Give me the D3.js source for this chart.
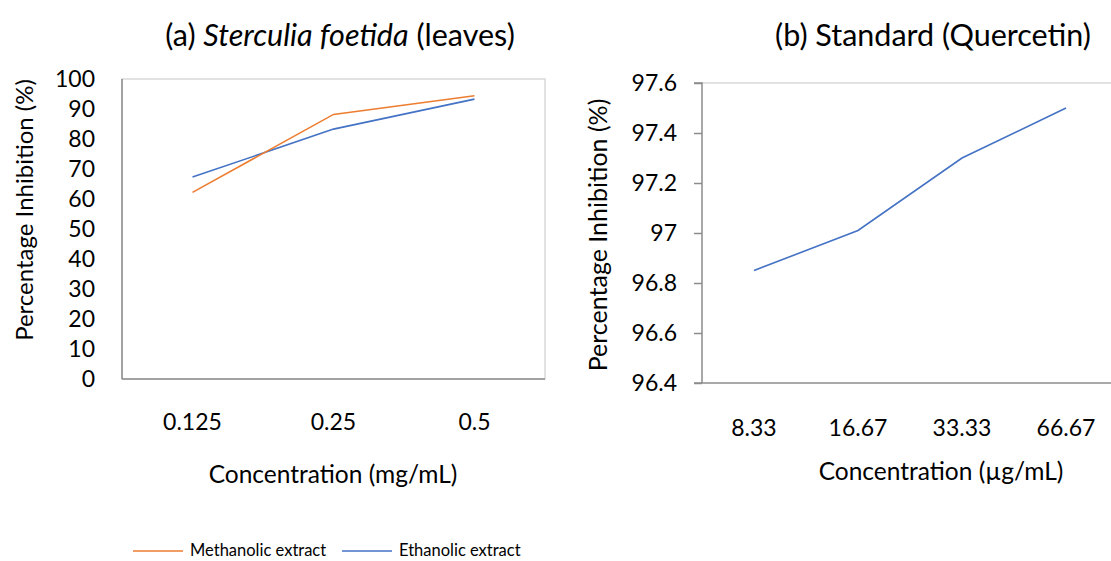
<!DOCTYPE html>
<html><head><meta charset="utf-8">
<script src="https://cdn.jsdelivr.net/npm/d3@7/dist/d3.min.js"></script>
<style>body{margin:0;background:#fff}svg{display:block;font-family:Lato,"Open Sans",sans-serif}</style>
</head><body><svg id="c" width="1111" height="561"></svg>
<script>
const catsA = ["0.125","0.25","0.5"];
const methanolic = [62.2, 88.2, 94.4];
const ethanolic = [67.3, 83.3, 93.3];
const ticksA = [0,10,20,30,40,50,60,70,80,90,100];
const catsB = ["8.33","16.67","33.33","66.67"];
const quercetin = [96.85, 97.01, 97.30, 97.50];
const ticksB = [96.4,96.6,96.8,97,97.2,97.4,97.6];
const seriesNames = ["Methanolic extract","Ethanolic extract"];
const colors = {m:"#ED7D31", e:"#4472C4"};

const svg = d3.select("#c");
const axisCol = "#8c8c8c", borderCol = "#d9d9d9";
const tickFs = 23, axTitleFs = 24.5, titleFs = 30.5;

// Chart A
const A = {l:122, r:545, t:79, b:379};
const xA = d3.scaleBand().domain(catsA).range([A.l, A.r]);
const yA = d3.scaleLinear().domain([0,100]).range([A.b, A.t]);
const gA = svg.append("g");
gA.append("rect").attr("x",A.l).attr("y",A.t).attr("width",A.r-A.l).attr("height",A.b-A.t)
  .attr("fill","none").attr("stroke",borderCol).attr("stroke-width",1.5);
gA.append("line").attr("x1",A.l).attr("x2",A.l).attr("y1",A.t).attr("y2",A.b).attr("stroke",axisCol).attr("stroke-width",1.5);
gA.append("line").attr("x1",A.l).attr("x2",A.r).attr("y1",A.b).attr("y2",A.b).attr("stroke",axisCol).attr("stroke-width",1.5);
gA.selectAll(".yt").data(ticksA).join("text").attr("x",A.l-27).attr("y",d=>yA(d)).attr("dy","0.36em")
  .attr("text-anchor","end").attr("font-size",tickFs).text(d=>d);
gA.selectAll(".xt").data(catsA).join("text").attr("x",d=>xA(d)+xA.bandwidth()/2).attr("y",A.b+43).attr("dy","0.36em")
  .attr("text-anchor","middle").attr("font-size",tickFs).text(d=>d);
const lineA = d3.line().x((d,i)=>xA(catsA[i])+xA.bandwidth()/2).y(d=>yA(d));
gA.append("path").attr("d",lineA(ethanolic)).attr("fill","none").attr("stroke",colors.e).attr("stroke-width",1.6);
gA.append("path").attr("d",lineA(methanolic)).attr("fill","none").attr("stroke",colors.m).attr("stroke-width",1.6);
gA.append("text").attr("x",333).attr("y",474).attr("dy","0.36em").attr("text-anchor","middle").attr("font-size",axTitleFs).text("Concentration (mg/mL)");
gA.append("text").attr("transform","translate(24,210) rotate(-90)").attr("dy","0.36em").attr("text-anchor","middle").attr("font-size",axTitleFs-0.5).text("Percentage Inhibition (%)");
const tA = gA.append("text").attr("x",340).attr("y",35).attr("dy","0.36em").attr("text-anchor","middle").attr("font-size",titleFs);
tA.append("tspan").text("(a) ");
tA.append("tspan").attr("font-style","italic").text("Sterculia foetida");
tA.append("tspan").text(" (leaves)");

// Chart B
const B = {l:702, r:1118, t:83, b:383};
const xB = d3.scaleBand().domain(catsB).range([B.l, B.r]);
const yB = d3.scaleLinear().domain([96.4,97.6]).range([B.b, B.t]);
const gB = svg.append("g");
gB.append("line").attr("x1",B.l).attr("x2",1111).attr("y1",B.t).attr("y2",B.t).attr("stroke",borderCol).attr("stroke-width",1.5);
const yAxisB = d3.axisLeft(yB).tickValues(ticksB).tickSize(8).tickFormat(d=>String(+d.toFixed(1)));
const ay = gB.append("g").attr("transform",`translate(${B.l},0)`).call(yAxisB);
ay.select(".domain").attr("stroke",axisCol).attr("stroke-width",1.5).attr("d",`M-8,${B.t}H0V${B.b}`);
ay.selectAll(".tick line").attr("stroke",axisCol).attr("stroke-width",1.5);
ay.selectAll(".tick text").attr("font-size",tickFs).attr("font-family","Lato").attr("fill","#000").attr("x",-25);
gB.append("line").attr("x1",B.l-8).attr("x2",1111).attr("y1",B.b).attr("y2",B.b).attr("stroke",axisCol).attr("stroke-width",1.5);
gB.selectAll(".xt").data(catsB).join("text").attr("x",d=>xB(d)+xB.bandwidth()/2).attr("y",B.b+45).attr("dy","0.36em")
  .attr("text-anchor","middle").attr("font-size",tickFs).text(d=>d);
const lineB = d3.line().x((d,i)=>xB(catsB[i])+xB.bandwidth()/2).y(d=>yB(d));
gB.append("path").attr("d",lineB(quercetin)).attr("fill","none").attr("stroke",colors.e).attr("stroke-width",1.6);
gB.append("text").attr("x",941).attr("y",471).attr("dy","0.36em").attr("text-anchor","middle").attr("font-size",axTitleFs).text("Concentration (µg/mL)");
gB.append("text").attr("transform","translate(598,235) rotate(-90)").attr("dy","0.36em").attr("text-anchor","middle").attr("font-size",axTitleFs+0.5).text("Percentage Inhibition (%)");
gB.append("text").attr("x",933).attr("y",35).attr("dy","0.36em").attr("text-anchor","middle").attr("font-size",titleFs).text("(b) Standard (Quercetin)");

// Legend
const leg = svg.append("g");
const legItems = [{n:seriesNames[0],c:colors.m,x:133},{n:seriesNames[1],c:colors.e,x:342}];
legItems.forEach(it=>{
  leg.append("line").attr("x1",it.x).attr("x2",it.x+50).attr("y1",551).attr("y2",551).attr("stroke",it.c).attr("stroke-width",1.6);
  leg.append("text").attr("x",it.x+57).attr("y",550).attr("dy","0.36em").attr("font-size",16.5).text(it.n);
});
</script></body></html>
